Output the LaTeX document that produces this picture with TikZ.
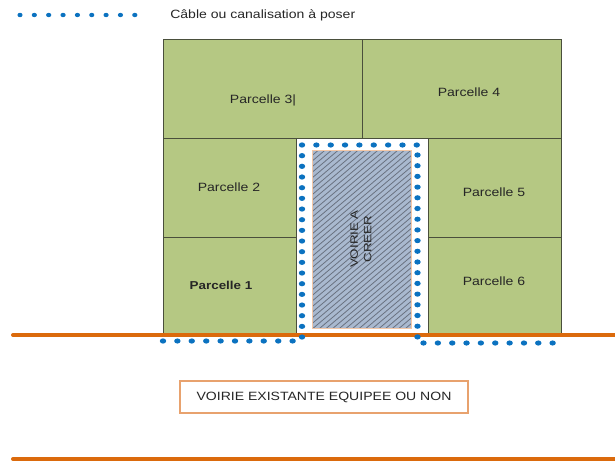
\documentclass[tikz,border=0pt]{standalone}
\usepackage{fontspec}
\setmainfont[FakeStretch=1.17]{Liberation Sans}
\newfontfamily\plainf{Liberation Sans}
\definecolor{parc}{HTML}{B5C883}
\definecolor{edge}{HTML}{4A4F3C}
\definecolor{road}{HTML}{DB6A0C}
\definecolor{boxb}{HTML}{E8A26E}
\definecolor{cable}{HTML}{0B72C0}
\definecolor{voie}{HTML}{A9B9CF}
\definecolor{voieb}{HTML}{F4C7A6}
\definecolor{hatch}{HTML}{6A7280}
\definecolor{txt}{HTML}{262626}
\tikzset{
  parcelle/.style={draw=edge,line width=0.9pt,fill=parc,inner sep=0pt},
  lbl/.style={font=\fontsize{9}{10}\selectfont,text=txt,inner sep=0pt},
  roadline/.style={draw=road,line width=3pt},
  cabledot/.style={fill=cable,draw=none},
}
\newcommand{\parc}[5]{\node[parcelle,minimum width=#3*0.75pt,minimum height=#4*0.75pt,anchor=north west] (#5) at (#1,#2) {};}
\begin{document}
\begin{tikzpicture}[x=0.75pt,y=-0.75pt]
\useasboundingbox (0,0) rectangle (615,461);
% parcels
\parc{163}{39}{199}{99}{p3}
\parc{362}{39}{199}{99}{p4}
\parc{163}{138}{133}{99}{p2}
\parc{163}{237}{133}{98}{p1}
\parc{428}{138}{133}{99}{p5}
\parc{428}{237}{133}{98}{p6}
\node[lbl] (l3) at (263,100) {Parcelle 3|};
\node[lbl] (l4) at (469,92) {Parcelle 4};
\node[lbl] (l2) at (229,187) {Parcelle 2};
\node[lbl,font=\fontsize{8.6}{10}\selectfont\bfseries] (l1) at (221,285) {Parcelle 1};
\node[lbl] (l5) at (494,192) {Parcelle 5};
\node[lbl] (l6) at (494,281) {Parcelle 6};
% new road
\fill[voie] (312,150) rectangle (411,328);
\begin{scope}
\clip (312,150) rectangle (411,328);
\foreach \k in {0,...,62}{
  \draw[hatch,line width=0.6pt] (312,{150+\k*5.6}) -- +(130,-110);
}
\end{scope}
\node[draw=voieb,line width=1pt,minimum width=99*0.75pt,minimum height=178*0.75pt,anchor=north west,inner sep=0pt] (v) at (312,150) {};
\node[lbl,yscale=1.25,rotate=90,align=center,font=\plainf\fontsize{8}{10.2}\selectfont] (vt) at (361,239) {VOIRIE A\\CREER};
% existing road
\coordinate (r1a) at (13,335);
\coordinate (r1b) at (615,335);
\coordinate (r2a) at (13,459);
\coordinate (r2b) at (615,459);
\draw[roadline,line cap=round] (r1a) -- (r1b);
\draw[roadline,line cap=round] (r2a) -- (r2b);
% cable
\foreach \i in {0,...,8}{\fill[cabledot] ({302+\i*14.35},145) ellipse (3.2 and 2.6);}
\foreach \i in {1,...,18}{\fill[cabledot] (302,{145+\i*10.67}) ellipse (3.2 and 2.6);}
\foreach \i in {0,...,17}{\fill[cabledot] (417.5,{155+\i*10.7}) ellipse (3.2 and 2.6);}
\foreach \i in {0,...,9}{\fill[cabledot] ({163+\i*14.4},341) ellipse (3.2 and 2.6);}
\foreach \i in {0,...,9}{\fill[cabledot] ({423.5+\i*14.35},343) ellipse (3.2 and 2.6);}
% legend
\foreach \i in {0,...,8}{\fill[cabledot] ({20+\i*14.35},15) ellipse (2.6 and 2.2);}
\node[lbl,anchor=west] (leg) at (170,15) {Câble ou canalisation à poser};
% box
\node[draw=boxb,line width=0.9pt,fill=white,minimum width=288*0.75pt,minimum height=32*0.75pt,lbl] (box) at (324,397) {VOIRIE EXISTANTE EQUIPEE OU NON};
\end{tikzpicture}
\end{document}
